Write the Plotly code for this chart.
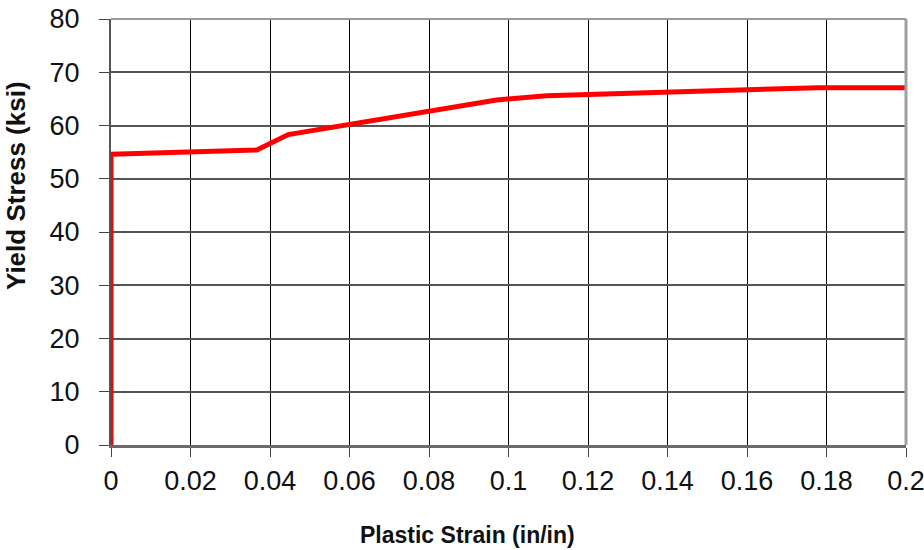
import plotly.graph_objects as go

# Hardening curve: plastic strain vs. yield stress
plastic_strain = [0.0, 0.0, 0.0367, 0.0446, 0.097, 0.1096, 0.178, 0.2]
yield_stress = [0.0, 54.6, 55.4, 58.3, 64.8, 65.6, 67.1, 67.1]

x_tick_vals = [0, 0.02, 0.04, 0.06, 0.08, 0.1, 0.12, 0.14, 0.16, 0.18, 0.2]
x_tick_text = ["0", "0.02", "0.04", "0.06", "0.08", "0.1", "0.12", "0.14", "0.16", "0.18", "0.2"]
y_tick_vals = [0, 10, 20, 30, 40, 50, 60, 70, 80]

x_title = "Plastic Strain (in/in)"
y_title = "Yield Stress (ksi)"

tick_font = dict(family="Liberation Sans, Arial", size=27, color="#111")
title_font = dict(family="Liberation Sans, Arial", color="#111")

fig = go.Figure()
fig.add_trace(go.Scatter(
    x=plastic_strain, y=yield_stress, mode="lines",
    line=dict(color="#ff0000", width=5),
    cliponaxis=False, showlegend=False,
))

fig.update_layout(
    width=924, height=550,
    margin=dict(l=111, r=18, t=19, b=105, autoexpand=False),
    paper_bgcolor="white", plot_bgcolor="white",
    xaxis=dict(
        range=[0, 0.2], tickvals=x_tick_vals, ticktext=x_tick_text,
        showgrid=True, gridcolor="#000", gridwidth=1,
        showline=True, linecolor="#6a6a6a", linewidth=3, mirror=False,
        ticks="outside", ticklen=9, tickcolor="#444", tickwidth=1,
        ticklabelstandoff=1, ticklabeloverflow="allow",
        tickfont=tick_font, zeroline=False, automargin=False,
    ),
    yaxis=dict(
        range=[0, 80], tickvals=y_tick_vals,
        showgrid=True, gridcolor="#555", gridwidth=1.5,
        showline=True, linecolor="#555", linewidth=2, mirror=False,
        ticks="outside", ticklen=10, tickcolor="#444", tickwidth=1,
        ticklabelstandoff=14, ticklabeloverflow="allow",
        tickfont=tick_font, zeroline=False, automargin=False,
    ),
    shapes=[
        # frame: top and right edges of the plotting area
        dict(type="line", xref="paper", yref="paper", x0=0, x1=1, y0=1, y1=1,
             line=dict(color="#9a9a9a", width=2)),
        dict(type="line", xref="paper", yref="paper", x0=1, x1=1, y0=0, y1=1,
             line=dict(color="#a0a0a0", width=3)),
    ],
    annotations=[
        dict(text="<b>" + x_title + "</b>", xref="paper", yref="paper",
             x=(467 - 111) / 795, y=-(535 - 445) / 426,
             xanchor="center", yanchor="middle", showarrow=False,
             font=dict(size=23, **title_font)),
        dict(text="<b>" + y_title + "</b>", xref="paper", yref="paper",
             x=-(111 - 16) / 795, y=(445 - 186) / 426, textangle=-90,
             xanchor="center", yanchor="middle", showarrow=False,
             font=dict(size=26, **title_font)),
    ],
)

fig.write_html("out.html")
